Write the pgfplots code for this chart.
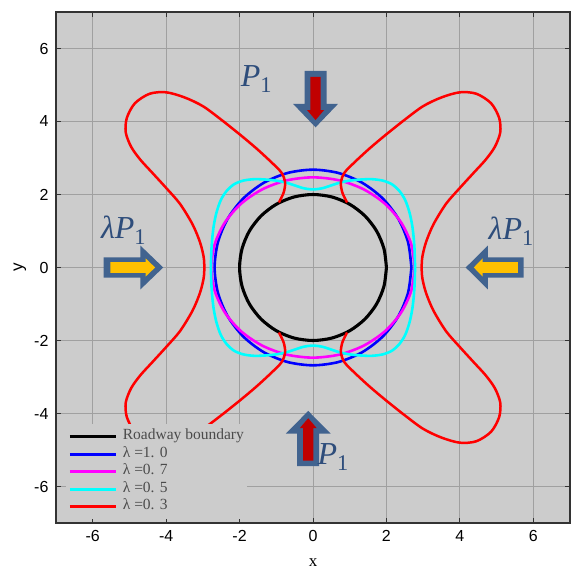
\documentclass[border=0pt]{standalone}
\usepackage{fontspec}
\setmainfont{Liberation Serif}
\setsansfont{Liberation Sans}
\usepackage{pgfplots}
\pgfplotsset{compat=1.18}
\definecolor{bggray}{RGB}{204,204,204}
\definecolor{gridgray}{RGB}{160,160,160}
\definecolor{arrowblue}{RGB}{65,99,143}
\definecolor{labelblue}{RGB}{46,77,123}
\definecolor{arrowred}{RGB}{192,0,0}
\definecolor{arrowyellow}{RGB}{255,192,0}
\definecolor{legtext}{RGB}{75,75,75}
\definecolor{cBlue}{RGB}{0,0,255}
\definecolor{cMag}{RGB}{255,0,255}
\definecolor{cCyan}{RGB}{0,255,255}
\definecolor{cRed}{RGB}{255,0,0}
\begin{document}
\begin{tikzpicture}
\begin{axis}[name=ax, scale only axis, width=514pt, height=511pt,
  xmin=-7, xmax=7, ymin=-7, ymax=7,
  xtick={-6,-4,...,6}, ytick={-6,-4,...,6},
  axis background/.style={fill=bggray},
  grid=major, major grid style={draw=gridgray, line width=0.8pt},
  axis line style={draw=black!80, line width=1.2pt},
  tick style={draw=black!80, line width=1pt}, major tick length=5pt,
  tick pos=both, tick align=inside,
  /pgf/number format/assume math mode=true,
  ticklabel style={font=\sffamily\fontsize{16}{16}\selectfont},
  xticklabel style={yshift=-4pt},
  yticklabel style={xshift=-4pt},
  xlabel={x},
  xlabel style={at={(axis description cs:0.5,-0.062)}, anchor=north, font=\fontsize{17}{17}\selectfont},
  legend image code/.code={\draw[#1, line width=2.9pt] (0pt,0pt) -- (46pt,0pt);},
  legend cell align=left,
  legend style={at={(axis cs:-6.72,-4.28)}, anchor=north west, draw=none, fill=bggray,
    inner xsep=2pt, inner ysep=4pt, font=\fontsize{15.5}{15.5}\selectfont, text=legtext,
    row sep=0pt, column sep=4pt,
    nodes={inner sep=1.5pt, text height=10.5pt, text depth=4pt}},
]
% Roadway boundary, r = 2
\addplot[black, line width=3.1pt, smooth] coordinates {
(2,0) (1.932,0.518) (1.732,1) (1.414,1.414) (1,1.732) (0.518,1.932) (0,2)
(-0.518,1.932) (-1,1.732) (-1.414,1.414) (-1.732,1) (-1.932,0.518) (-2,0)
(-1.932,-0.518) (-1.732,-1) (-1.414,-1.414) (-1,-1.732) (-0.518,-1.932) (0,-2)
(0.518,-1.932) (1,-1.732) (1.414,-1.414) (1.732,-1) (1.932,-0.518) (2,0)};
\addlegendentry{Roadway boundary}
% lambda = 1.0
\addplot[cBlue, line width=2.6pt, smooth] coordinates {
(2.68,0) (2.589,0.694) (2.321,1.34) (1.895,1.895) (1.34,2.321) (0.694,2.589) (0,2.68)
(-0.694,2.589) (-1.34,2.321) (-1.895,1.895) (-2.321,1.34) (-2.589,0.694) (-2.68,0)
(-2.589,-0.694) (-2.321,-1.34) (-1.895,-1.895) (-1.34,-2.321) (-0.694,-2.589) (0,-2.68)
(0.694,-2.589) (1.34,-2.321) (1.895,-1.895) (2.321,-1.34) (2.589,-0.694) (2.68,0)};
\addlegendentry{λ =1. 0}
% lambda = 0.7
\addplot[cMag, line width=2.6pt, smooth] coordinates {
(2.77,0) (2.676,0.639) (2.399,1.235) (1.959,1.747) (1.385,2.139) (0.717,2.386) (0,2.47)
(-0.717,2.386) (-1.385,2.139) (-1.959,1.747) (-2.399,1.235) (-2.676,0.639) (-2.77,0)
(-2.676,-0.639) (-2.399,-1.235) (-1.959,-1.747) (-1.385,-2.139) (-0.717,-2.386) (0,-2.47)
(0.717,-2.386) (1.385,-2.139) (1.959,-1.747) (2.399,-1.235) (2.676,-0.639) (2.77,0)};
\addlegendentry{λ =0. 7}
% lambda = 0.5
\addplot[cCyan, line width=2.6pt, smooth] coordinates {
(2.78,0) (2.76,0.60) (2.71,1.10) (2.63,1.50) (2.51,1.85) (2.35,2.10) (2.15,2.28) (1.90,2.38)
(1.60,2.42) (1.30,2.41) (1.00,2.38) (0.75,2.33) (0.50,2.25) (0.25,2.17) (0,2.14)
(-0.25,2.17) (-0.5,2.25) (-0.75,2.33) (-1,2.38) (-1.3,2.41) (-1.6,2.42) (-1.9,2.38) (-2.15,2.28)
(-2.35,2.10) (-2.51,1.85) (-2.63,1.5) (-2.71,1.1) (-2.76,0.6) (-2.78,0)
(-2.76,-0.6) (-2.71,-1.1) (-2.63,-1.5) (-2.51,-1.85) (-2.35,-2.1) (-2.15,-2.28) (-1.9,-2.38)
(-1.6,-2.42) (-1.3,-2.41) (-1,-2.38) (-0.75,-2.33) (-0.5,-2.25) (-0.25,-2.17) (0,-2.14)
(0.25,-2.17) (0.5,-2.25) (0.75,-2.33) (1,-2.38) (1.3,-2.41) (1.6,-2.42) (1.9,-2.38) (2.15,-2.28)
(2.35,-2.1) (2.51,-1.85) (2.63,-1.5) (2.71,-1.1) (2.76,-0.6) (2.78,0)};
\addlegendentry{λ =0. 5}
% lambda = 0.3 (left half)
\addplot[cRed, line width=2.5pt, smooth] coordinates {
(-0.93,1.78) (-0.80,2.05) (-0.76,2.33) (-0.86,2.60) (-1.15,2.90) (-1.55,3.27) (-2.00,3.65)
(-2.50,4.05) (-3.00,4.42) (-3.50,4.66) (-4.00,4.80) (-4.45,4.76) (-4.85,4.50) (-5.07,4.10)
(-5.10,3.70) (-4.95,3.30) (-4.70,2.95) (-4.40,2.62) (-4.00,2.18) (-3.62,1.74) (-3.28,1.18)
(-3.08,0.70) (-2.98,0.30) (-2.96,0.00)
(-2.98,-0.30) (-3.08,-0.70) (-3.28,-1.18) (-3.62,-1.74) (-4.00,-2.18) (-4.40,-2.62)
(-4.70,-2.95) (-4.95,-3.30) (-5.10,-3.70) (-5.07,-4.10) (-4.85,-4.50) (-4.45,-4.76)
(-4.00,-4.80) (-3.50,-4.66) (-3.00,-4.42) (-2.50,-4.05) (-2.00,-3.65) (-1.55,-3.27)
(-1.15,-2.90) (-0.86,-2.60) (-0.76,-2.33) (-0.80,-2.05) (-0.93,-1.78)};
\addlegendentry{λ =0. 3}
% lambda = 0.3 (right half)
\addplot[cRed, line width=2.5pt, smooth, forget plot] coordinates {
(0.93,1.78) (0.80,2.05) (0.76,2.33) (0.86,2.60) (1.15,2.90) (1.55,3.27) (2.00,3.65)
(2.50,4.05) (3.00,4.42) (3.50,4.66) (4.00,4.80) (4.45,4.76) (4.85,4.50) (5.07,4.10)
(5.10,3.70) (4.95,3.30) (4.70,2.95) (4.40,2.62) (4.00,2.18) (3.62,1.74) (3.28,1.18)
(3.08,0.70) (2.98,0.30) (2.96,0.00)
(2.98,-0.30) (3.08,-0.70) (3.28,-1.18) (3.62,-1.74) (4.00,-2.18) (4.40,-2.62)
(4.70,-2.95) (4.95,-3.30) (5.10,-3.70) (5.07,-4.10) (4.85,-4.50) (4.45,-4.76)
(4.00,-4.80) (3.50,-4.66) (3.00,-4.42) (2.50,-4.05) (2.00,-3.65) (1.55,-3.27)
(1.15,-2.90) (0.86,-2.60) (0.76,-2.33) (0.80,-2.05) (0.93,-1.78)};
% load arrows
\fill[arrowblue] (axis cs:-0.23,5.39) -- (axis cs:0.37,5.39) -- (axis cs:0.37,4.48) -- (axis cs:0.68,4.48) -- (axis cs:0.07,3.84) -- (axis cs:-0.54,4.48) -- (axis cs:-0.23,4.48) -- cycle;
\fill[arrowred] (axis cs:-0.07,5.22) -- (axis cs:0.21,5.22) -- (axis cs:0.21,4.31) -- (axis cs:0.30,4.31) -- (axis cs:0.07,4.04) -- (axis cs:-0.16,4.31) -- (axis cs:-0.07,4.31) -- cycle;
\fill[arrowblue] (axis cs:-0.43,-5.44) -- (axis cs:0.17,-5.44) -- (axis cs:0.17,-4.55) -- (axis cs:0.48,-4.55) -- (axis cs:-0.13,-3.93) -- (axis cs:-0.74,-4.55) -- (axis cs:-0.43,-4.55) -- cycle;
\fill[arrowred] (axis cs:-0.27,-5.29) -- (axis cs:0.01,-5.29) -- (axis cs:0.01,-4.40) -- (axis cs:0.10,-4.40) -- (axis cs:-0.13,-4.13) -- (axis cs:-0.36,-4.40) -- (axis cs:-0.27,-4.40) -- cycle;
\fill[arrowblue] (axis cs:-5.70,-0.28) -- (axis cs:-5.70,0.28) -- (axis cs:-4.70,0.28) -- (axis cs:-4.70,0.60) -- (axis cs:-4.08,0) -- (axis cs:-4.70,-0.60) -- (axis cs:-4.70,-0.28) -- cycle;
\fill[arrowyellow] (axis cs:-5.52,-0.15) -- (axis cs:-5.52,0.15) -- (axis cs:-4.56,0.15) -- (axis cs:-4.56,0.25) -- (axis cs:-4.30,0) -- (axis cs:-4.56,-0.25) -- (axis cs:-4.56,-0.15) -- cycle;
\fill[arrowblue] (axis cs:5.74,-0.28) -- (axis cs:5.74,0.28) -- (axis cs:4.76,0.28) -- (axis cs:4.76,0.60) -- (axis cs:4.16,0) -- (axis cs:4.76,-0.60) -- (axis cs:4.76,-0.28) -- cycle;
\fill[arrowyellow] (axis cs:5.58,-0.15) -- (axis cs:5.58,0.15) -- (axis cs:4.62,0.15) -- (axis cs:4.62,0.25) -- (axis cs:4.38,0) -- (axis cs:4.62,-0.25) -- (axis cs:4.62,-0.15) -- cycle;
\node[text=labelblue, font=\fontsize{32}{32}\selectfont] at (axis cs:-1.54,5.16) {\itshape P\textsubscript{\upshape 1}};
\node[text=labelblue, font=\fontsize{32}{32}\selectfont] at (axis cs:0.55,-5.19) {\itshape P\textsubscript{\upshape 1}};
\node[text=labelblue, font=\fontsize{32}{32}\selectfont] at (axis cs:-5.16,1.02) {\itshape λP\textsubscript{\upshape 1}};
\node[text=labelblue, font=\fontsize{32}{32}\selectfont] at (axis cs:5.40,1.00) {\itshape λP\textsubscript{\upshape 1}};
\end{axis}
\node[rotate=90, font=\sffamily\fontsize{17}{17}\selectfont] at ([xshift=-36pt]ax.west) {y};
\pgfresetboundingbox
\path ([xshift=-56pt,yshift=-46pt]ax.south west) rectangle ([xshift=1pt,yshift=12pt]ax.north east);
\end{tikzpicture}
\end{document}
